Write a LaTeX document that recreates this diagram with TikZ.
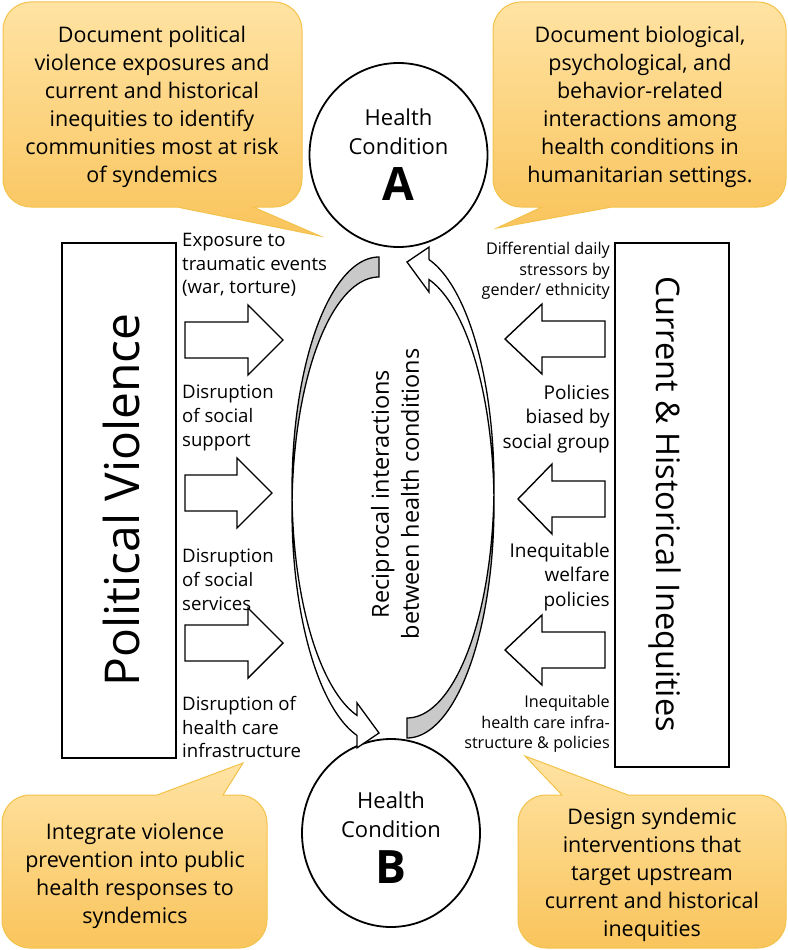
\documentclass[tikz,border=0pt]{standalone}
\usepackage{fontspec}
\setmainfont{Open Sans}
\usetikzlibrary{shapes.geometric}
\definecolor{bubtop}{HTML}{FFE3A3}
\definecolor{bubbot}{HTML}{F9C45C}
\definecolor{bubline}{HTML}{F3C24A}
\definecolor{backgray}{HTML}{C9C9C9}
\newcommand{\mycurvedarrow}{%
  % front face
  \fill[white] plot[domain=180:104.65,samples=60] ({379+87*cos(\x)},{490+233*sin(\x)})
     -- (357,702.9) -- (379,733) -- (357,747.9) -- (357,735.4)
     -- plot[domain=104.65:180,samples=60] ({379+87*cos(\x)},{510+233*sin(\x)}) -- cycle;
  % back face
  \fill[backgray] plot[domain=270:182.46,samples=60] ({379+87*cos(\x)},{510+233*sin(\x)})
     -- plot[domain=177.54:270,samples=60] ({379+87*cos(\x)},{490+233*sin(\x)}) -- cycle;
  % outline
  \draw[curvline] plot[domain=180:104.65,samples=60] ({379+87*cos(\x)},{490+233*sin(\x)})
     -- (357,702.9) -- (379,733) -- (357,747.9) -- (357,735.4)
     -- plot[domain=104.65:180,samples=60] ({379+87*cos(\x)},{510+233*sin(\x)})
     -- plot[domain=180:270,samples=60] ({379+87*cos(\x)},{490+233*sin(\x)})
     -- plot[domain=270:182.46,samples=60] ({379+87*cos(\x)},{510+233*sin(\x)});
}
\begin{document}
\begin{tikzpicture}[x=1pt,y=-1pt,
  bubble/.style={top color=bubtop,bottom color=bubbot,draw=bubline,line width=1pt},
  bubtext/.style={align=center,inner sep=0pt,font=\fontsize{21.5}{28}\selectfont},
  blockarrow/.style={draw=black,fill=white,line width=1.4pt,line join=miter},
  curvline/.style={draw=black,line width=1.3pt,line join=miter},
  lbl/.style={inner sep=0pt,font=\fontsize{18.6}{23.8}\selectfont},
  lblbig/.style={inner sep=0pt,font=\fontsize{19}{24.5}\selectfont},
  lblsmall/.style={inner sep=0pt,font=\fontsize{16.2}{20.5}\selectfont},
  sidebox/.style={draw=black,line width=1.6pt,fill=white},
  healthcirc/.style={ellipse,draw=black,line width=1.8pt,fill=white,inner sep=0pt},
  circtext/.style={align=center,inner sep=0pt,font=\fontsize{22}{29}\selectfont},
  circletter/.style={inner sep=0pt,font=\fontsize{46}{46}\selectfont\bfseries}]
\useasboundingbox (0,0) rectangle (787,950);

% callouts
\path[bubble] (31,2) -- (274,2) arc[start angle=-90,end angle=0,radius=28]
  -- (302,179) arc[start angle=0,end angle=90,radius=28]
  -- (253,207) -- (320,236) -- (177,207)
  -- (31,207) arc[start angle=90,end angle=180,radius=28]
  -- (3,30) arc[start angle=180,end angle=270,radius=28] -- cycle;
\path[bubble] (521,2) -- (758,2) arc[start angle=-90,end angle=0,radius=28]
  -- (786,179) arc[start angle=0,end angle=90,radius=28]
  -- (612,207) -- (497,228) -- (542,207)
  -- (521,207) arc[start angle=90,end angle=180,radius=28]
  -- (493,30) arc[start angle=180,end angle=270,radius=28] -- cycle;
\path[bubble] (30,795) -- (157,795) -- (243,763) -- (223,795)
  -- (239,795) arc[start angle=-90,end angle=0,radius=28]
  -- (267,920) arc[start angle=0,end angle=90,radius=28]
  -- (30,948) arc[start angle=90,end angle=180,radius=28]
  -- (2,823) arc[start angle=180,end angle=270,radius=28] -- cycle;
\path[bubble] (546,795) -- (562,795) -- (525,756) -- (628,795)
  -- (758,795) arc[start angle=-90,end angle=0,radius=28]
  -- (786,920) arc[start angle=0,end angle=90,radius=28]
  -- (546,948) arc[start angle=90,end angle=180,radius=28]
  -- (518,823) arc[start angle=180,end angle=270,radius=28] -- cycle;

\node[bubtext] (c1) at (152,107) {Document political\\violence exposures and\\current and historical\\inequities to identify\\communities most at risk\\of syndemics};
\node[bubtext] (c2) at (640,107) {Document biological,\\psychological, and\\behavior-related\\interactions among\\health conditions in\\humanitarian settings.};
\node[bubtext] (c3) at (135,876) {Integrate violence\\prevention into public\\health responses to\\syndemics};
\node[bubtext] (c4) at (652,875) {Design syndemic\\interventions that\\target upstream\\current and historical\\inequities};

% side boxes
\draw[sidebox] (62,243) rectangle (176,758);
\node[rotate=90,inner sep=0pt,font=\fontsize{48}{48}\selectfont] (pv) at (121,500) {Political Violence};
\draw[sidebox] (615,243) rectangle (729,767);
\node[rotate=-90,inner sep=0pt,font=\fontsize{32.5}{32.5}\selectfont] (chi) at (665,504) {Current \& Historical Inequities};

% health conditions
\node[healthcirc,minimum width=178,minimum height=184] (A) at (398.5,155) {};
\node[circtext] (tA) at (398.5,132) {Health\\Condition};
\node[circletter] (lA) at (398.5,184) {A};
\node[healthcirc,minimum width=178,minimum height=188] (B) at (391,833) {};
\node[circtext] (tB) at (391,815) {Health\\Condition};
\node[circletter] (lB) at (391,867) {B};

% curved arrows
\mycurvedarrow
\begin{scope}[rotate around={180:(393,497.5)}]
\mycurvedarrow
\end{scope}
\node[rotate=90,align=center,inner sep=0pt,font=\fontsize{23.5}{30}\selectfont] (rec) at (395,494) {Reciprocal interactions\\between health conditions};

% left block arrows
\draw[blockarrow] (185,322) -- (248,322) -- (248,305) -- (283,340) -- (248,375) -- (248,358) -- (185,358) -- cycle;
\draw[blockarrow] (185,475) -- (237,475) -- (237,458) -- (272,493) -- (237,528) -- (237,511) -- (185,511) -- cycle;
\draw[blockarrow] (185,625) -- (248,625) -- (248,608) -- (283,643) -- (248,678) -- (248,661) -- (185,661) -- cycle;
% right block arrows
\draw[blockarrow] (605,321) -- (542,321) -- (542,304) -- (505,339) -- (542,374) -- (542,357) -- (605,357) -- cycle;
\draw[blockarrow] (605,481) -- (552,481) -- (552,464) -- (518,499) -- (552,534) -- (552,517) -- (605,517) -- cycle;
\draw[blockarrow] (605,632) -- (542,632) -- (542,615) -- (505,650) -- (542,685) -- (542,668) -- (605,668) -- cycle;

% left labels
\node[lbl,align=left,anchor=west] (l1) at (182,265) {Exposure to\\traumatic events\\(war, torture)};
\node[lbl,align=left,anchor=west] (l2) at (182,418) {Disruption\\of social\\support};
\node[lbl,align=left,anchor=west] (l3) at (182,580) {Disruption\\of social\\services};
\node[lbl,align=left,anchor=west] (l4) at (182,727) {Disruption of\\health care\\infrastructure};
% right labels
\node[lblsmall,align=right,anchor=east] (r1) at (610,271) {Differential daily\\stressors by\\gender/ ethnicity};
\node[lblbig,align=right,anchor=east] (r2) at (610,419) {Policies\\biased by\\social group};
\node[lblbig,align=right,anchor=east] (r3) at (610,577) {Inequitable\\welfare\\policies};
\node[lblsmall,align=right,anchor=east] (r4) at (610,724) {Inequitable\\health care infra-\\structure \& policies};
\end{tikzpicture}
\end{document}
